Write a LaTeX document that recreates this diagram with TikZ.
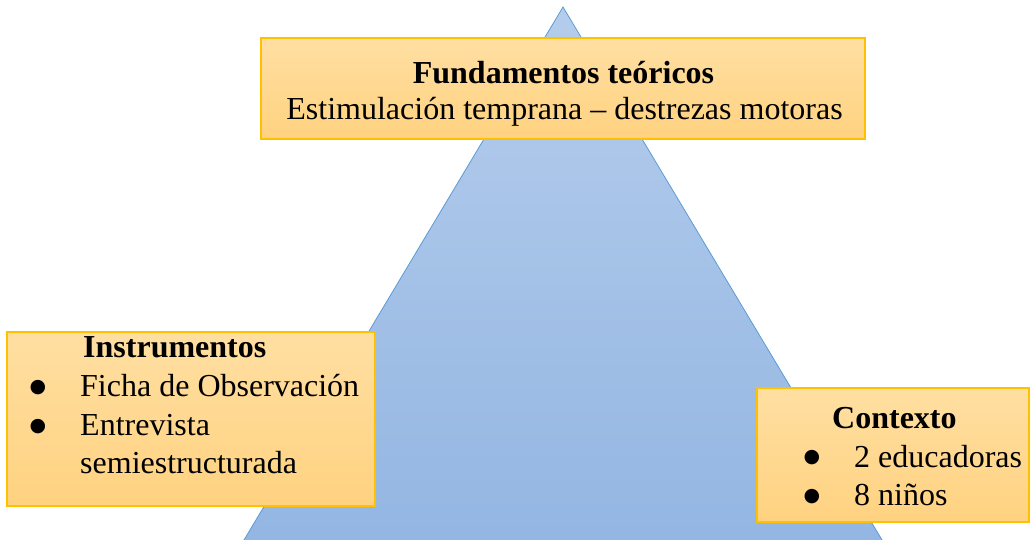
\documentclass[tikz,border=0pt]{standalone}
\usepackage{fontspec}
\setmainfont{Liberation Serif}
\newfontfamily\dotfont{DejaVu Sans}
\definecolor{triTop}{RGB}{181,205,236}
\definecolor{triBot}{RGB}{146,181,226}
\definecolor{triLine}{RGB}{91,155,213}
\definecolor{boxTop}{RGB}{255,223,162}
\definecolor{boxBot}{RGB}{255,210,128}
\definecolor{boxLine}{RGB}{255,192,0}
\tikzset{
  panel/.style={draw=boxLine, line width=1.4pt, top color=boxTop, bottom color=boxBot},
  txt/.style={inner sep=0pt, anchor=base west, font=\fontsize{32}{37}\selectfont},
  ctxt/.style={inner sep=0pt, anchor=base, font=\fontsize{32}{37}\selectfont},
  bul/.style={inner sep=0pt, anchor=center, font=\dotfont\fontsize{19}{19}\selectfont},
}
\begin{document}
\begin{tikzpicture}[x=1pt,y=-1pt]
\clip (0,0) rectangle (1030,539);
% triangle
\path[draw=triLine, line width=0.8pt, top color=triTop, bottom color=triBot]
  (563,7) coordinate (apex) -- (232,560) coordinate (bl) -- (894,560) coordinate (br) -- cycle;
% top box
\path[panel] (261,38) rectangle (865,139);
\node[ctxt] (t1) at (563.5,83) {\bfseries Fundamentos teóricos};
\node[ctxt] (t2) at (564.5,119) {Estimulación temprana – destrezas motoras};
% left box
\path[panel] (7,332) rectangle (375,506);
\node[txt] (l0) at (83,357) {\bfseries Instrumentos};
\node[bul] (lb1) at (38,388) {●};
\node[txt] (l1) at (80,396) {Ficha de Observación};
\node[bul] (lb2) at (38,427) {●};
\node[txt] (l2) at (80,435) {Entrevista};
\node[txt] (l3) at (80,473) {semiestructurada};
% right box
\path[panel] (757,388) rectangle (1029,522);
\node[txt] (r0) at (832,428) {\bfseries Contexto};
\node[bul] (rb1) at (812,458) {●};
\node[txt] (r1) at (854,467) {2 educadoras};
\node[bul] (rb2) at (812,497) {●};
\node[txt] (r2) at (854,505) {8 niños};
\end{tikzpicture}
\end{document}
